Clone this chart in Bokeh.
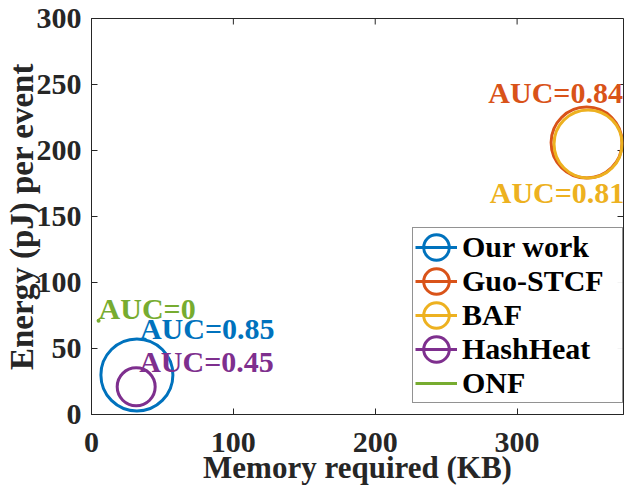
import math

from bokeh.plotting import figure
from bokeh.models import Legend, LegendItem, Range1d, FixedTicker
from bokeh.core.properties import value
from bokeh.embed import file_html
from bokeh.resources import INLINE

# values
names = ["Our work", "Guo-STCF", "BAF", "HashHeat", "ONF"]
memory_kb = [32, 349, 350, 31.5, 5]
energy_pj = [30, 206, 205, 21, 71]
auc_text = ["AUC=0.85", "AUC=0.84", "AUC=0.81", "AUC=0.45", "AUC=0"]

x_ticks = [0, 100, 200, 300]
y_ticks = [0, 50, 100, 150, 200, 250, 300]
x_max, y_max = 375, 300

colors = ["#0072BD", "#D95319", "#EDB120", "#7E2F8E", "#77AC30"]
# marker diameters in screen px (0 = plain dot)
marker_px = [72, 71, 68, 38, 0]
# label placement relative to the point (screen px, y down)
label_dx = [3, -31, -31, 3, 0]
label_dy = [-46, -50, 49, -25, -12]
label_align = ["left", "center", "center", "left", "left"]

FONT = "Liberation Serif"
INK = "#262626"

p = figure(width=624, height=488, output_backend="svg", toolbar_location=None,
           x_range=Range1d(0, x_max), y_range=Range1d(0, y_max),
           min_border_left=91, min_border_right=1, min_border_top=18, min_border_bottom=74)
p.grid.visible = False
p.outline_line_color = INK
p.outline_line_width = 1

for ax in (p.xaxis[0], p.yaxis[0]):
    ax.major_label_text_font = FONT
    ax.major_label_text_font_style = "bold"
    ax.major_label_text_font_size = "30px"
    ax.major_label_text_color = INK
    ax.axis_label_text_font = FONT
    ax.axis_label_text_font_style = "bold"
    ax.axis_label_text_color = INK
    ax.axis_line_color = INK
    ax.major_tick_line_color = INK
    ax.major_tick_in = 6
    ax.major_tick_out = 0
    ax.minor_tick_line_color = None

p.xaxis.ticker = FixedTicker(ticks=x_ticks)
p.yaxis.ticker = FixedTicker(ticks=y_ticks)
p.xaxis.axis_label = "Memory required (KB)"
p.yaxis.axis_label = "Energy (pJ) per event"
p.xaxis.axis_label_text_font_size = "31px"
p.yaxis.axis_label_text_font_size = "33px"
p.xaxis.major_label_standoff = 18
p.xaxis.axis_label_standoff = -5
p.yaxis.major_label_standoff = 10
p.yaxis.axis_label_standoff = -6

# mirrored ticks on the top and right edges (clipped by the frame)
p.scatter(x=x_ticks, y=[y_max] * len(x_ticks), marker="dash", size=12, angle=math.pi / 2,
          line_color=INK, line_width=1)
p.scatter(x=[x_max] * len(y_ticks), y=y_ticks, marker="dash", size=12,
          line_color=INK, line_width=1)

items = []
for i, name in enumerate(names):
    # invisible line: only shows up in the legend
    ln = p.line(x=[float("nan")], y=[float("nan")], line_color=colors[i], line_width=3)
    if marker_px[i] > 0:
        mk = p.ellipse(x=[memory_kb[i]], y=[energy_pj[i]], width=marker_px[i], height=marker_px[i],
                       width_units="screen", height_units="screen",
                       fill_color=None, line_color=colors[i], line_width=3)
    else:
        mk = p.scatter(x=[memory_kb[i]], y=[energy_pj[i]], marker="dot", size=16,
                       line_color=colors[i], fill_color=colors[i], line_width=2)
    items.append(LegendItem(label=name, renderers=[ln, mk]))

for i in range(len(names)):
    p.text(x=[memory_kb[i]], y=[energy_pj[i]], text=[auc_text[i]],
           x_offset=label_dx[i], y_offset=label_dy[i],
           text_font=value(FONT), text_font_style="bold", text_font_size="30px",
           text_color=colors[i], text_align=label_align[i], text_baseline="middle")

legend = Legend(items=items, location=(321, 11))
legend.label_text_font = FONT
legend.label_text_font_style = "bold"
legend.label_text_font_size = "30px"
legend.label_text_color = "black"
legend.label_height = 32
legend.label_width = 158
legend.glyph_height = 32
legend.glyph_width = 42
legend.spacing = 0
legend.padding = 2
legend.margin = 0
legend.label_standoff = 5
legend.border_line_color = INK
legend.border_line_width = 1
p.add_layout(legend, "center")

open("out.html", "w").write(file_html(p, INLINE))
